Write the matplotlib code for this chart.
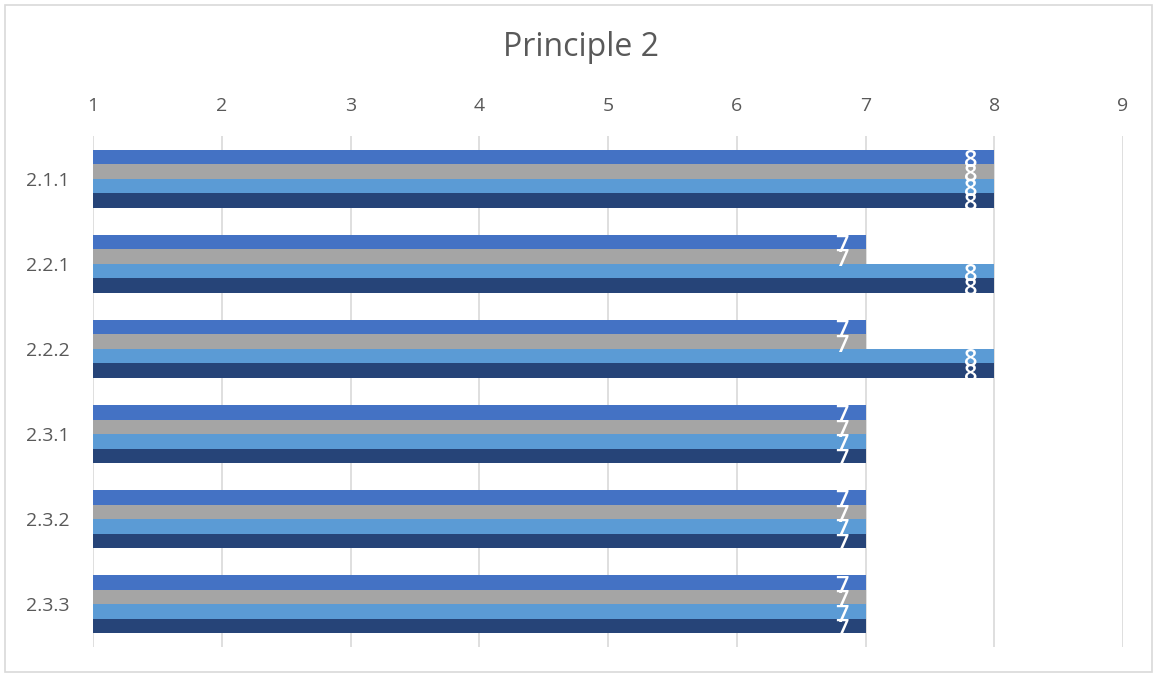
import numpy as np
import matplotlib.pyplot as plt
from matplotlib.patches import Rectangle

plt.rcParams['font.family'] = ['Open Sans', 'DejaVu Sans']

# data
categories = ["2.1.1", "2.2.1", "2.2.2", "2.3.1", "2.3.2", "2.3.3"]
series_a = [8, 7, 7, 7, 7, 7]
series_b = [8, 7, 7, 7, 7, 7]
series_c = [8, 8, 8, 7, 7, 7]
series_d = [8, 8, 8, 7, 7, 7]
all_series = [series_a, series_b, series_c, series_d]
colors = ["#4472C4", "#A5A5A5", "#5B9BD5", "#264478"]
x_ticks = [1, 2, 3, 4, 5, 6, 7, 8, 9]

W, H = 1157, 677
fig = plt.figure(figsize=(W / 100, H / 100), dpi=100)
ax = fig.add_axes([93 / W, 1 - 647 / H, (1123 - 93) / W, (647 - 136) / H])

# light frame around the whole chart
fig.patches.append(Rectangle((5 / W, 5 / H), 1147 / W, 667 / H, transform=fig.transFigure,
                             fill=False, edgecolor="#D9D9D9", linewidth=1.2))

n = len(all_series)
group = 0.68
bh = group / n
y = np.arange(len(categories))

for i, (vals, col) in enumerate(zip(all_series, colors)):
    pos = y - group / 2 + bh * (i + 0.5)
    vals = np.array(vals)
    bars = ax.barh(pos, vals - 1, left=1, height=bh, color=col, zorder=2)
    for b, v, p in zip(bars, vals, pos):
        # value label sits at the inner end, clipped to its own bar
        t = ax.text(v - 0.13, p - bh / 2 - 0.01, str(v), ha="right", va="top",
                    color="white", fontsize=17, fontweight="semibold", zorder=3)
        t.set_clip_path(b)

ax.set_xlim(1, 9)
ax.set_ylim(len(categories) - 0.5, -0.5)
ax.set_xticks(x_ticks)
ax.xaxis.tick_top()
ax.set_yticks(y)
ax.set_yticklabels(categories)
ax.tick_params(length=0, labelsize=14, labelcolor="#595959")
ax.tick_params(axis="x", pad=15)
ax.tick_params(axis="y", pad=17)
ax.grid(axis="x", color="#D9D9D9", linewidth=1.2, zorder=0)
ax.set_axisbelow(True)
for s in ax.spines.values():
    s.set_visible(False)

fig.text(581 / W, 1 - 48 / H, "Principle 2", ha="center", va="center",
         fontsize=23, color="#595959")

fig.savefig("out.png", dpi=100)
